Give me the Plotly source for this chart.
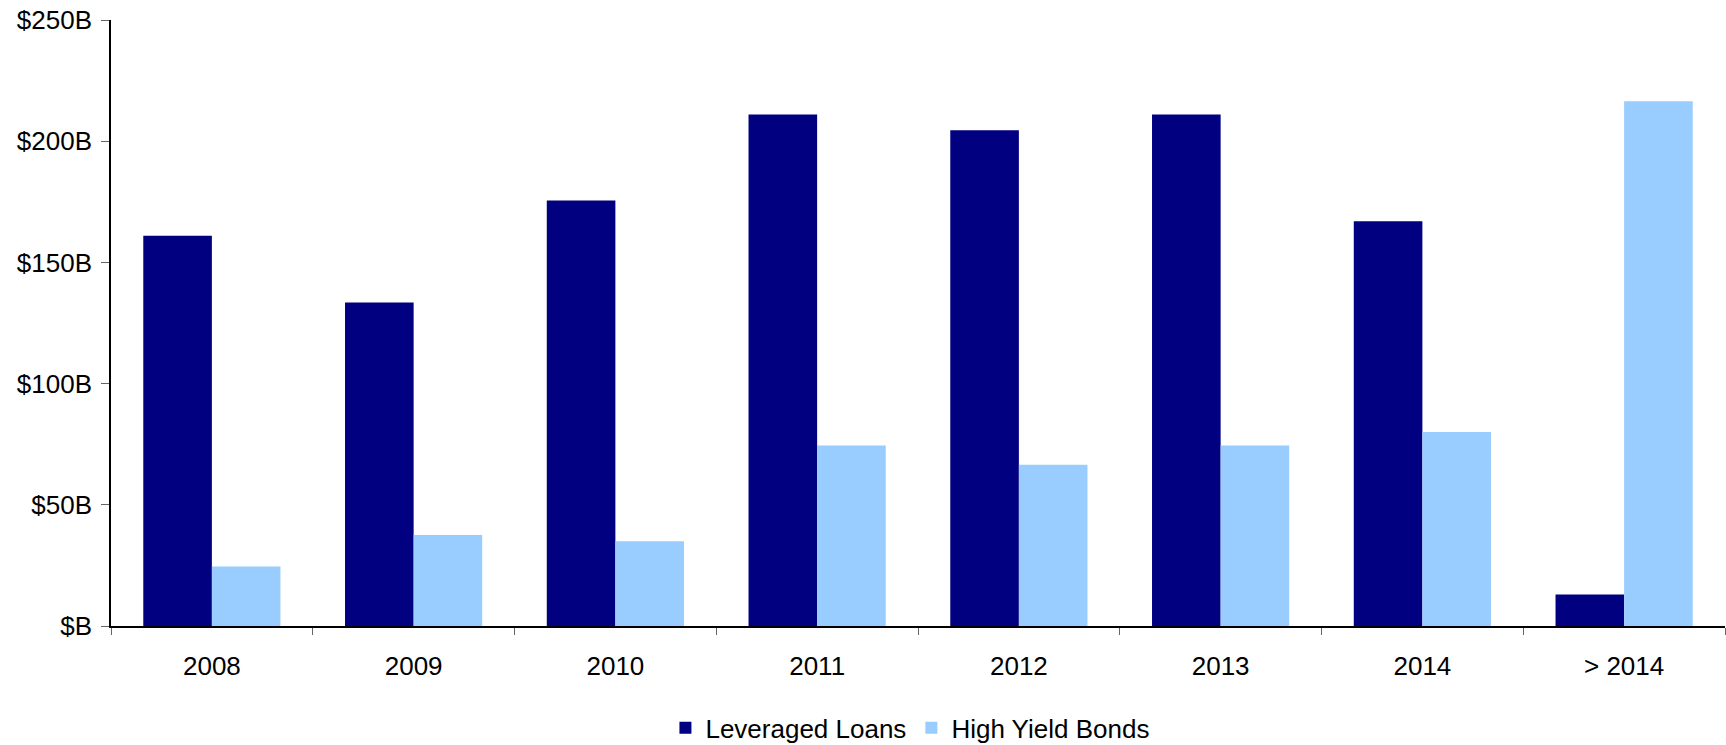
import plotly.graph_objects as go

categories = ["2008", "2009", "2010", "2011", "2012", "2013", "2014", "> 2014"]
leveraged_loans = [161, 133.5, 175.5, 211, 204.5, 211, 167, 13]
high_yield_bonds = [24.5, 37.5, 35, 74.5, 66.5, 74.5, 80, 216.5]
y_tick_vals = [0, 50, 100, 150, 200, 250]
y_tick_text = ["$B", "$50B", "$100B", "$150B", "$200B", "$250B"]

fig = go.Figure()
fig.add_trace(go.Bar(name="Leveraged Loans", x=categories, y=leveraged_loans,
                     marker=dict(color="#000080", line=dict(width=0))))
fig.add_trace(go.Bar(name="High Yield Bonds", x=categories, y=high_yield_bonds,
                     marker=dict(color="#99CCFF", line=dict(width=0))))

fig.update_layout(
    width=1726, height=745,
    barmode="group", bargap=0.32, bargroupgap=0,
    plot_bgcolor="white", paper_bgcolor="white",
    margin=dict(l=111, r=1, t=20, b=119, pad=0, autoexpand=False),
    font=dict(family="Liberation Sans, Arial, sans-serif", size=26, color="black"),
    showlegend=True,
    legend=dict(orientation="h", x=0.495, xanchor="center", y=-0.168, yanchor="middle",
                font=dict(size=26), itemwidth=30, traceorder="normal"),
    xaxis=dict(showline=True, linecolor="black", linewidth=1.5, showgrid=False,
               ticks="outside", ticklen=7, tickcolor="#666666", tickson="boundaries",
               ticklabelstandoff=16, zeroline=False, automargin=False),
    yaxis=dict(range=[0, 250], showline=True, linecolor="black", linewidth=1.5,
               showgrid=False, ticks="outside", ticklen=8, tickcolor="#666666",
               tickvals=y_tick_vals, ticktext=y_tick_text, zeroline=False,
               ticklabelstandoff=4, automargin=False),
)

# remove the page's default 8px body margin so the figure fills the window exactly
fig.write_html("out.html", config={"displayModeBar": False},
               post_script="document.body.style.margin='0px';document.body.style.overflow='hidden';")
